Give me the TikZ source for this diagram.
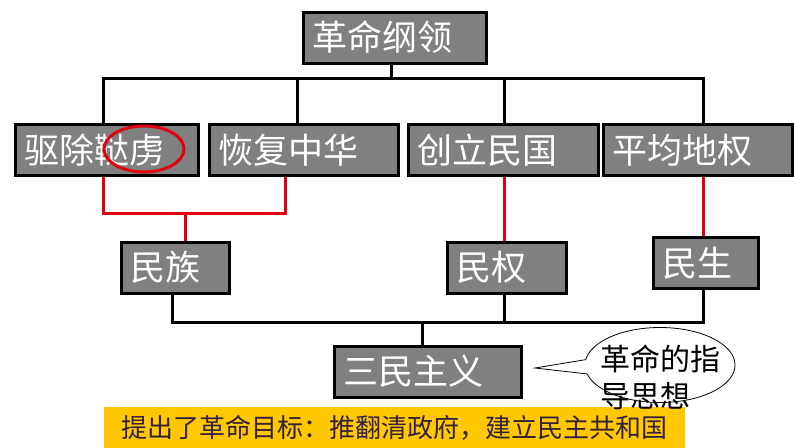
\documentclass[tikz,border=0pt]{standalone}
\usepackage{fontspec}
\usepackage{tikz}
\usetikzlibrary{positioning, shapes.callouts}
\newfontfamily\cjk{Noto Sans CJK SC}
\definecolor{BoxGray}{HTML}{808080}
\definecolor{LinkRed}{HTML}{E00010}
\definecolor{Gold}{HTML}{FFC800}
\definecolor{InkBrown}{HTML}{35203A}

\begin{document}
\begin{tikzpicture}[x=1pt, y=-1pt,
    box/.style={draw=black, line width=3pt, fill=BoxGray, text=white,
      font=\cjk\fontsize{35}{35}\selectfont, minimum height=51pt,
      inner xsep=9pt, inner ysep=0pt, align=left},
    blackline/.style={draw=black, line width=3pt},
    redline/.style={draw=LinkRed, line width=3pt},
    bubble/.style={ellipse callout, draw=black, line width=0.8pt, fill=white,
      minimum width=150pt, minimum height=75pt, inner sep=0pt,
      callout pointer arc=22},
    banner/.style={fill=Gold, text=InkBrown, font=\cjk\fontsize{26}{26}\selectfont,
      minimum width=581pt, minimum height=42pt, inner sep=0pt}]
  \useasboundingbox (0,0) rectangle (794,447);
  \fill[white] (0,0) rectangle (794,447);

  % top of the tree
  \node[box, text width=165pt] (plan) at (394.5,37.5) {革命纲领};
  \node[box, text width=165pt] (qu) at (106.5,150) {驱除鞑虏};
  \node[box, text width=171pt] (hui) at (303.5,150) {恢复中华};
  \node[box, text width=172pt] (chuang) at (503,150) {创立民国};
  \node[box, text width=171pt] (ping) at (697.5,150) {平均地权};

  % the three principles
  \node[box, text width=90pt] (minzu) at (175,267.5) {民族};
  \node[box, text width=101pt] (minquan) at (506.5,267.5) {民权};
  \node[box, text width=87pt] (minsheng) at (705.5,263) {民生};
  \node[box, text width=169pt] (sanmin) at (427.5,371.5) {三民主义};

  % black bus lines
  \coordinate (busTop) at (391,78);
  \coordinate (busLow) at (422,322);
  \draw[blackline] ([xshift=-3.5pt]plan.south) -- (busTop);
  \draw[blackline] ([xshift=-3.5pt]qu.north) |- (busTop) -| ([xshift=5.5pt]ping.north);
  \draw[blackline] ([xshift=-6.5pt]hui.north) -- ([xshift=-6.5pt]hui.north |- busTop);
  \draw[blackline] ([xshift=1pt]chuang.north) -- ([xshift=1pt]chuang.north |- busTop);
  \draw[blackline] ([xshift=-3pt]minzu.south) |- (busLow) -| ([xshift=-2.5pt]minsheng.south);
  \draw[blackline] ([xshift=-2.5pt]minquan.south) -- ([xshift=-2.5pt]minquan.south |- busLow);
  \draw[blackline] (busLow) -- (sanmin.north -| busLow);

  % red links
  \coordinate (redJoin) at (185,213);
  \draw[redline] ([xshift=-3.5pt]qu.south) |- (redJoin) -| ([xshift=-18.5pt]hui.south);
  \draw[redline] (redJoin) -- (minzu.north -| redJoin);
  \draw[redline] ([xshift=1pt]chuang.south) -- ([xshift=1pt]chuang.south |- minquan.north);
  \draw[redline] ([xshift=5.5pt]ping.south) -- ([xshift=5.5pt]ping.south |- minsheng.north);

  % red ring
  \draw[LinkRed, line width=3pt] (144,149) ellipse [x radius=40pt, y radius=23pt];

  % goal banner
  \node[banner] (goal) at (394.5,428) {提出了革命目标：推翻清政府，建立民主共和国};

  % callout
  \node[bubble, callout absolute pointer={(535,368)}] (bub) at (660,365) {};
  \node[anchor=north west, inner sep=0pt, text width=140pt, align=left,
    font=\cjk\fontsize{30}{37}\selectfont] (bubtext) at (600,345) {革命的指\\导思想};
\end{tikzpicture}
\end{document}
